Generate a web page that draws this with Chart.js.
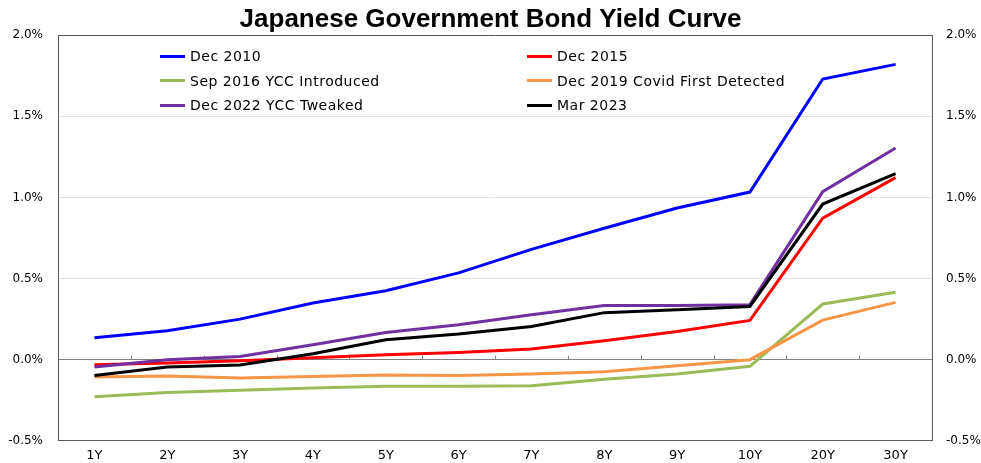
<!DOCTYPE html>
<html>
<head>
<meta charset="utf-8">
<script src="https://cdn.jsdelivr.net/npm/chart.js@4"></script>
<style>
  html, body { margin: 0; padding: 0; background: #fff; }
  #wrap { position: relative; width: 981px; height: 463px; }
  #legend { position: absolute; left: 160px; top: 44px; display: grid;
    grid-template-columns: 367px 300px; grid-auto-rows: 24.5px;
    font-family: "DejaVu Sans", Verdana, sans-serif; font-size: 14px; letter-spacing: 0.5px; color: #000; }
  #legend .item { display: flex; align-items: center; white-space: nowrap; }
  #legend .swatch { width: 25px; height: 3px; margin-right: 5px; }
</style>
</head>
<body>
<div id="wrap">
  <canvas id="yieldChart" width="981" height="463"></canvas>
  <div id="legend"></div>
</div>
<script>
const tenors = ['1Y', '2Y', '3Y', '4Y', '5Y', '6Y', '7Y', '8Y', '9Y', '10Y', '20Y', '30Y'];

const dec2010 = [0.135, 0.178, 0.25, 0.349, 0.425, 0.535, 0.68, 0.81, 0.935, 1.033, 1.73, 1.82];
const dec2015 = [-0.031, -0.02, -0.006, 0.012, 0.031, 0.045, 0.066, 0.117, 0.174, 0.242, 0.872, 1.122];
const sep2016 = [-0.228, -0.203, -0.189, -0.175, -0.164, -0.164, -0.16, -0.12, -0.088, -0.041, 0.343, 0.415];
const dec2019 = [-0.107, -0.1, -0.113, -0.103, -0.094, -0.098, -0.088, -0.074, -0.037, 0.0, 0.244, 0.353];
const dec2022 = [-0.045, 0.0, 0.02, 0.092, 0.168, 0.215, 0.277, 0.334, 0.334, 0.339, 1.036, 1.305];
const mar2023 = [-0.097, -0.045, -0.033, 0.037, 0.123, 0.158, 0.205, 0.29, 0.308, 0.328, 0.959, 1.147];

const seriesNames = ['Dec 2010', 'Dec 2015', 'Sep 2016 YCC Introduced', 'Dec 2019 Covid First Detected', 'Dec 2022 YCC Tweaked', 'Mar 2023'];
const seriesColors = ['#0000ff', '#ff0000', '#9bbb59', '#f79646', '#7030a0', '#000000'];
const seriesData = [dec2010, dec2015, sep2016, dec2019, dec2022, mar2023];

const tickFont = { family: 'DejaVu Sans, Verdana, sans-serif', size: 12 };

// small tick marks on the zero line, between categories
const zeroTicks = {
  id: 'zeroTicks',
  beforeDatasetsDraw(chart) {
    const { ctx, scales: { x, y } } = chart;
    const y0 = y.getPixelForValue(0);
    const step = x.getPixelForValue(1) - x.getPixelForValue(0);
    ctx.save();
    ctx.strokeStyle = '#808080';
    ctx.lineWidth = 1;
    ctx.beginPath();
    for (let i = 0; i < tenors.length - 1; i++) {
      const px = Math.round(x.getPixelForValue(i) + step / 2) + 0.5;
      ctx.moveTo(px, y0);
      ctx.lineTo(px, y0 - 4);
    }
    ctx.stroke();
    ctx.restore();
  }
};

const ctx = document.getElementById('yieldChart').getContext('2d');
const chart = new Chart(ctx, {
  type: 'line',
  data: {
    labels: tenors,
    datasets: seriesData.map((d, i) => ({
      label: seriesNames[i],
      data: d,
      borderColor: seriesColors[i],
      backgroundColor: seriesColors[i],
      borderWidth: 3,
      pointRadius: 0,
      tension: 0,
      order: seriesData.length - i
    }))
  },
  options: {
    responsive: false,
    animation: false,
    layout: { padding: 0 },
    plugins: {
      legend: { display: false },
      tooltip: { enabled: false },
      title: {
        display: true,
        text: 'Japanese Government Bond Yield Curve',
        color: '#000',
        font: { family: 'Liberation Sans, Arial, sans-serif', size: 26, weight: 'bold' },
        padding: { top: 4, bottom: 0 }
      }
    },
    scales: {
      x: {
        offset: true,
        grid: { display: false, offset: true, drawTicks: false },
        border: { color: '#595959', width: 1 },
        ticks: { color: '#000', font: { ...tickFont, size: 13 }, padding: 7, maxRotation: 0 },
        afterFit(s) { s.height = 22; }
      },
      y: {
        position: 'left',
        min: -0.5,
        max: 2.0,
        grid: {
          drawTicks: false,
          color: c => (c.tick.value === 0 ? '#808080' : (c.tick.value === 2 || c.tick.value === -0.5) ? '#595959' : '#e3e3e3'),
          lineWidth: 1
        },
        border: { color: '#595959' },
        ticks: { stepSize: 0.5, color: '#000', font: tickFont, padding: 15, callback: v => v.toFixed(1) + '%' },
        afterFit(s) { s.width = 58; }
      },
      y2: {
        position: 'right',
        min: -0.5,
        max: 2.0,
        grid: { drawOnChartArea: false, drawTicks: false },
        border: { color: '#595959' },
        ticks: { stepSize: 0.5, color: '#000', font: tickFont, padding: 14, callback: v => v.toFixed(1) + '%' },
        afterFit(s) { s.width = 49; }
      }
    }
  },
  plugins: [zeroTicks]
});

// legend in two columns, built from the chart's datasets
const legendEl = document.getElementById('legend');
chart.data.datasets.forEach(ds => {
  const item = document.createElement('div');
  item.className = 'item';
  const sw = document.createElement('span');
  sw.className = 'swatch';
  sw.style.background = ds.borderColor;
  const label = document.createElement('span');
  label.textContent = ds.label;
  item.appendChild(sw);
  item.appendChild(label);
  legendEl.appendChild(item);
});
</script>
</body>
</html>
